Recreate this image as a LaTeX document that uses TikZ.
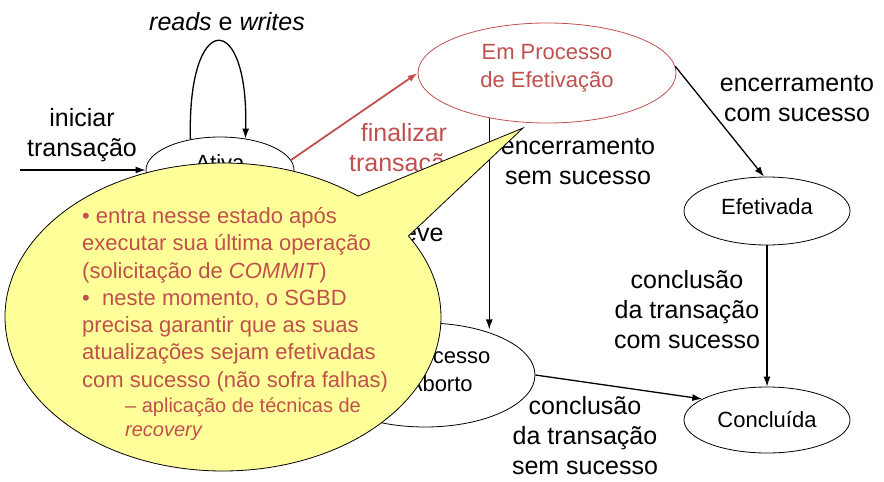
\documentclass[tikz,border=0pt]{standalone}
\usepackage{fontspec}
\setmainfont{Liberation Sans}
\usetikzlibrary{shapes.geometric,shapes.callouts,arrows.meta}
\definecolor{vermelho}{HTML}{C0504D}
\definecolor{amarelo}{HTML}{FFFF99}
\tikzset{estado/.style={draw, ellipse, line width=0.8pt, inner sep=2pt, align=center,
  font=\fontsize{22}{28}\selectfont}}
\tikzset{rotulo/.style={align=center, font=\fontsize{25}{30}\selectfont}}
\tikzset{seta/.style={->, line width=1.3pt}}

\begin{document}
\begin{tikzpicture}[x=1pt, y=-1pt, >={Latex[length=10pt,width=7pt]}]
\useasboundingbox (0,0) rectangle (884,482);

\node[estado, minimum width=148pt, minimum height=66pt, text depth=14pt] (ativa) at (220,170) {Ativa};
\node[estado, draw=vermelho, text=vermelho, minimum width=258pt, minimum height=100pt, text depth=14pt] (efetproc) at (547,73) {Em Processo\\de Efetivação};
\node[estado, minimum width=166pt, minimum height=68pt, text depth=9pt] (efet) at (767,211) {Efetivada};
\node[estado, minimum width=220pt, minimum height=104pt, text depth=10pt] (abortproc) at (425,375) {Em Processo\\de Aborto};
\node[estado, minimum width=166pt, minimum height=66pt] (concl) at (767,420) {Concluída};

\coordinate (inicio) at (20,170);
\draw[seta] (inicio) -- (ativa);
\draw[seta] (ativa.134) .. controls (187,9) and (249,9) .. (ativa.51);
\draw[seta, color=vermelho, line width=1.8pt] (ativa.8) -- (efetproc.west);
\draw[seta] (efetproc.218) -- (efetproc.218 |- abortproc.40);
\draw[seta] (efetproc.3) -- (efet.95);
\draw[seta] (efet) -- (concl);
\draw[seta] (abortproc.east) -- (concl.162);

% rotulos das transicoes
\node[rotulo] (rw) at (227,22) {\textit{reads} e \textit{writes}};
\node[rotulo] (iniciar) at (82,135) {iniciar\\transação};
\node[rotulo, text=vermelho] (finalizar) at (404,150) {finalizar\\transação};
\node[rotulo] (semsuc) at (578,162) {encerramento\\sem sucesso};
\node[rotulo] (comsuc) at (797,99) {encerramento\\com sucesso};
\node[rotulo] (conclcom) at (687,310) {conclusão\\da transação\\com sucesso};
\node[rotulo] (conclsem) at (585,436) {conclusão\\da transação\\sem sucesso};
\node[rotulo, anchor=east] (eve) at (447,235) {eve};

% balao
\coordinate (ponta) at (523,128);
\node[ellipse callout, draw, fill=amarelo, line width=0.8pt, minimum width=436pt, minimum height=308pt,
  inner sep=0pt, callout absolute pointer={(ponta)}, callout pointer arc=20] (balao) at (223,317) {};
\node[anchor=north west, align=left, inner sep=0pt, text=vermelho, font=\fontsize{22}{27.3}\selectfont] (nota) at (82,207)
  {• entra nesse estado após\\executar sua última operação\\(solicitação de \textit{COMMIT})\\•\ \ neste momento, o SGBD\\precisa garantir que as suas\\atualizações sejam efetivadas\\com sucesso (não sofra falhas)};
\node[anchor=north west, align=left, inner sep=0pt, text=vermelho, font=\fontsize{20}{24}\selectfont] (subnota) at (125,398)
  {– aplicação de técnicas de\\\textit{recovery}};

\end{tikzpicture}
\end{document}
